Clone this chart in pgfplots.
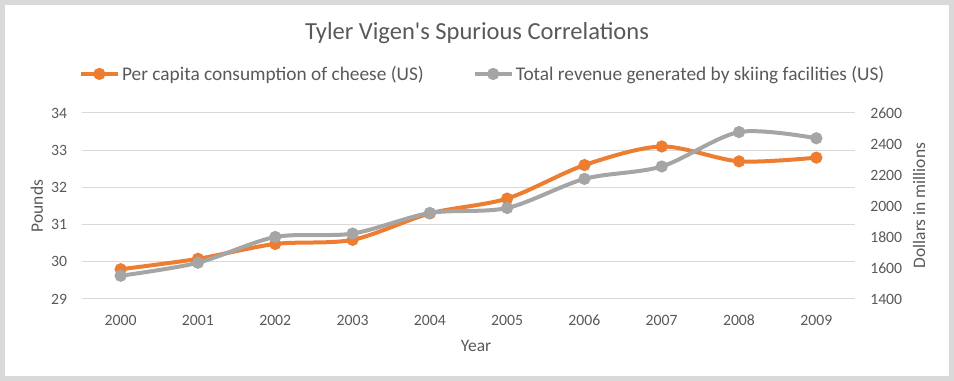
\documentclass[border=0pt]{standalone}
\usepackage{pgfplots}
\pgfplotsset{compat=1.18}
\usepackage{fontspec}
\setmainfont{Carlito}
\definecolor{cOrange}{HTML}{ED7D31}
\definecolor{cGray}{HTML}{A5A5A5}
\definecolor{cText}{HTML}{595959}
\definecolor{cGrid}{HTML}{D9D9D9}
\definecolor{cFrame}{HTML}{D9D9D9}
\begin{document}
\begin{tikzpicture}
\useasboundingbox (0pt,0pt) rectangle (715.5pt,285.75pt);
\draw[line width=3.75pt, cFrame] (1.875pt,1.875pt) rectangle (713.625pt,283.875pt);
\pgfplotsset{
  commonaxis/.style={
    scale only axis, width=579.75pt, height=139.5pt,
    at={(61.5pt,61.5pt)}, anchor=south west,
    xmin=1999.5, xmax=2009.5,
    xtick={2000,...,2009},
    major tick length=0pt,
    axis line style={draw=none},
    tick label style={font=\fontsize{11.8}{14}\selectfont, text=cText},
    /pgf/number format/assume math mode=true,
    /pgf/number format/1000 sep={},
  },
  smoothline/.style={smooth, line width=3pt, mark=*, mark size=3pt},
}
\begin{axis}[commonaxis,
  ymin=29, ymax=34, ytick={29,...,34},
  ymajorgrids, grid style={cGrid, line width=0.75pt},
  xticklabel style={anchor=center, inner sep=0pt, yshift=-15.75pt},
  yticklabel style={anchor=east, inner sep=0pt, xshift=-11pt},
  legend columns=2,
  legend style={at={(0.519,1.21)}, anchor=center, draw=none, fill=none,
    font=\fontsize{14.5}{17}\selectfont, text=cText,
    /tikz/every even column/.append style={column sep=35pt},
    inner sep=0pt},
  legend cell align=left,
  legend image code/.code={\draw[#1, mark repeat=2, mark phase=2, line width=3pt] plot coordinates {(0pt,0pt) (13.5pt,0pt) (27pt,0pt)};},
]
\addplot[smoothline, color=cOrange] coordinates {
(2000,29.8) (2001,30.08) (2002,30.48) (2003,30.59) (2004,31.3)
(2005,31.7) (2006,32.6) (2007,33.1) (2008,32.7) (2009,32.8)};
\addlegendentry{Per capita consumption of cheese (US)}
\addlegendimage{smoothline, color=cGray}
\addlegendentry{Total revenue generated by skiing facilities (US)}
\end{axis}
\begin{axis}[commonaxis,
  ymin=1400, ymax=2600, ytick={1400,1600,...,2600},
  xticklabels={}, 
  yticklabel pos=right,
  yticklabel style={anchor=west, inner sep=0pt, xshift=11.25pt},
]
\addplot[smoothline, color=cGray] coordinates {
(2000,1550) (2001,1634) (2002,1800) (2003,1822) (2004,1955)
(2005,1987) (2006,2175) (2007,2255) (2008,2477) (2009,2437)};
\end{axis}
\node[text=cText, font=\fontsize{18.4}{22}\selectfont] at (357.75pt,261pt) {Tyler Vigen\textquotesingle s Spurious Correlations};
\node[text=cText, font=\fontsize{13.1}{16}\selectfont, rotate=90] at (27.75pt,131.25pt) {Pounds};
\node[text=cText, font=\fontsize{13.1}{16}\selectfont, rotate=90] at (689.25pt,131.6pt) {Dollars in millions};
\node[text=cText, font=\fontsize{13.1}{16}\selectfont] at (357pt,26.25pt) {Year};
\end{tikzpicture}
\end{document}
